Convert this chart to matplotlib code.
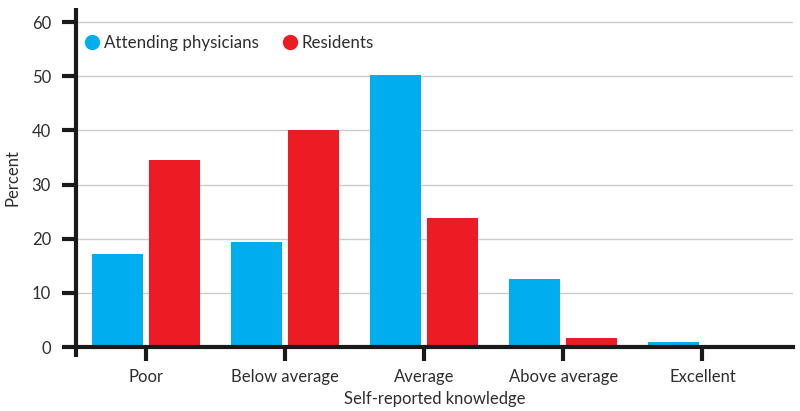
import matplotlib
matplotlib.use("Agg")
import matplotlib.pyplot as plt
from matplotlib.lines import Line2D
import numpy as np

categories = ["Poor", "Below average", "Average", "Above average", "Excellent"]
attending = [17.2, 19.4, 50.2, 12.5, 1.0]
residents = [34.6, 40.1, 23.9, 1.6, 0.0]
series_names = ["Attending physicians", "Residents"]
yticks = [0, 10, 20, 30, 40, 50, 60]

BLUE = "#00AEEF"
RED = "#ED1C24"
TXT = "#2e2e2e"

plt.rcParams['font.family'] = ['Lato', 'DejaVu Sans']

fig = plt.figure(figsize=(8, 4.11), dpi=100)
ax = fig.add_axes([0.095, 0.1557, 0.896, 0.825])

x = np.arange(len(categories))
w = 0.367
off = 0.205
ax.bar(x - off, attending, width=w, color=BLUE, zorder=3, label=series_names[0])
ax.bar(x + off, residents, width=w, color=RED, zorder=3, label=series_names[1])

ax.set_xlim(-0.504, 4.65)
ax.set_ylim(0, 62.6)
ax.set_yticks(yticks)
ax.set_xticks(x)
ax.set_xticklabels(categories)
ax.yaxis.grid(True, color="#cccccc", lw=1, zorder=0)
ax.set_axisbelow(True)

for s in ["top", "right"]:
    ax.spines[s].set_visible(False)
for s in ["left", "bottom"]:
    ax.spines[s].set_linewidth(3)
    ax.spines[s].set_color("#1a1a1a")
    ax.spines[s].set_zorder(5)
ax.spines['left'].set_capstyle('butt')

# extend left spine slightly below zero line
ax.add_line(Line2D([0, 0], [-0.03, 0], transform=ax.transAxes, color="#1a1a1a",
                   lw=3, clip_on=False, solid_capstyle='butt'))

ax.tick_params(axis='both', length=10, width=3, color="#1a1a1a", labelsize=12,
               labelcolor=TXT)
ax.tick_params(axis='y', pad=8)
ax.tick_params(axis='x', pad=6)

ax.set_ylabel("Percent", fontsize=12, color=TXT, labelpad=8)
ax.set_xlabel("Self-reported knowledge", fontsize=12, color=TXT, labelpad=4)

handles = [Line2D([], [], marker='o', ls='', color=BLUE, markersize=10),
           Line2D([], [], marker='o', ls='', color=RED, markersize=10)]
leg = ax.legend(handles, series_names, loc='upper left', frameon=False, ncol=2,
                fontsize=12.2, handletextpad=0.1, columnspacing=1.2,
                bbox_to_anchor=(-0.008, 0.955), borderaxespad=0.3, handlelength=1.2)
for t in leg.get_texts():
    t.set_color(TXT)

fig.savefig("out.png", dpi=100)
